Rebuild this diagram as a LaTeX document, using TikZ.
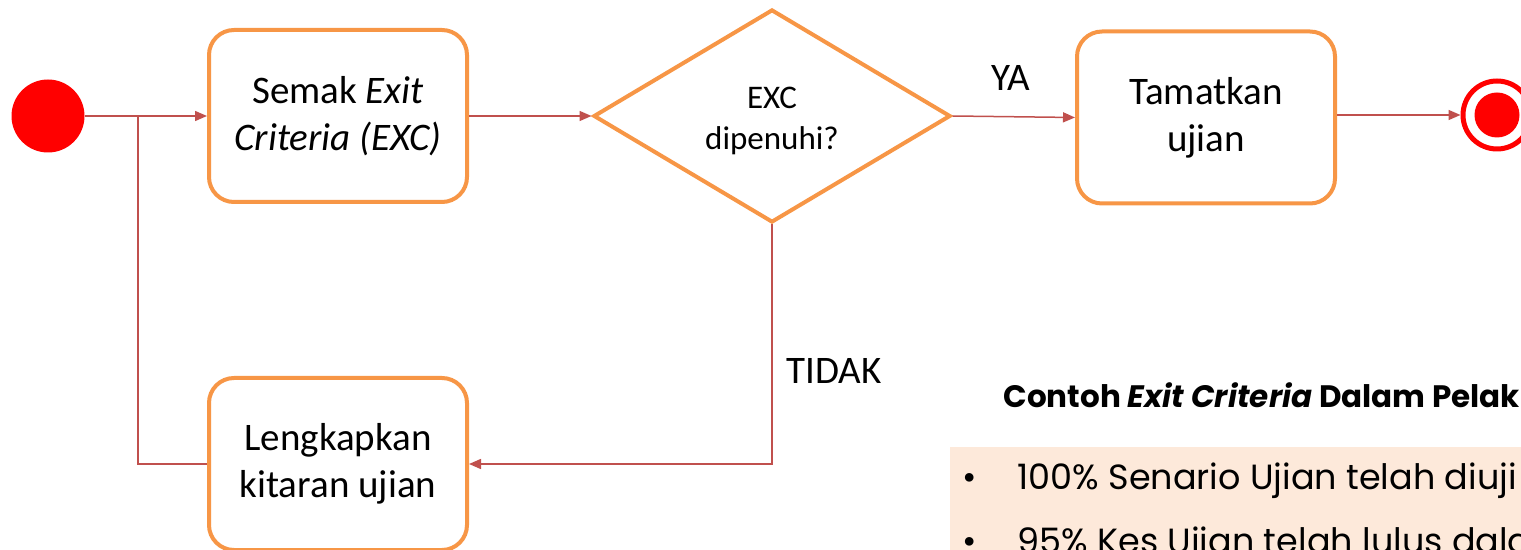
\documentclass[tikz,border=0pt]{standalone}
\usepackage{fontspec}
\setmainfont{Carlito}
\newfontfamily\cgfont{Poppins}
\usetikzlibrary{shapes.geometric,arrows.meta}
\definecolor{boxorange}{HTML}{F79646}
\definecolor{linered}{HTML}{C0504D}
\definecolor{peach}{HTML}{FDE9DA}
\definecolor{pure}{HTML}{FF0000}
\tikzset{
  proc/.style={draw=boxorange, line width=2pt, rounded corners=12.5pt, fill=white,
    minimum width=129pt, minimum height=86pt, align=center,
    font=\fontsize{19.5}{23.5}\selectfont},
  decis/.style={draw=boxorange, line width=2pt, diamond, aspect=1.67, inner sep=0pt,
    minimum width=357pt*0.5, minimum height=213pt*0.5},
  dectext/.style={align=center, inner sep=0pt, font=\fontsize{16.5}{20.5}\selectfont},
  flow/.style={draw=linered, line width=0.75pt, -{Triangle[length=6pt,width=5pt]}},
  plainflow/.style={draw=linered, line width=0.75pt},
  lbl/.style={font=\fontsize{19.5}{23.5}\selectfont, inner sep=0pt},
  bul/.style={font=\cgfont\fontsize{17.5}{22}\selectfont, inner sep=0pt},
}
\begin{document}
\begin{tikzpicture}[x=0.5pt,y=-0.5pt]
\useasboundingbox (0,0) rectangle (1521,550);
\clip (0,0) rectangle (1521,550);
% bottom-right panel
\fill[peach] (950,447) rectangle (1521,550);
\node[anchor=base west, inner sep=0pt, font=\cgfont\bfseries\fontsize{15.5}{18}\selectfont] (title) at (1003,408) {Contoh \textit{Exit Criteria} Dalam Pelaksanaan Ujian};
\node[bul, anchor=base] (b1) at (970,490) {•};
\node[bul, anchor=base west] (t1) at (1017,490) {100\% Senario Ujian telah diuji};
\node[bul, anchor=base] (b2) at (970,553) {•};
\node[bul, anchor=base west] (t2) at (1017,553) {95\% Kes Ujian telah lulus dalam ujian};
% nodes
\node[circle, fill=pure, minimum size=36.5pt, inner sep=0pt] (start) at (48,116) {};
\node[proc] (semak) at (338,116) {Semak \textit{Exit}\\\textit{Criteria (EXC)}};
\node[decis] (dec) at (772,116) {};
\node[dectext] (dectxt) at (772,121) {EXC\\dipenuhi?};
\node[proc] (tamat) at (1206,117.5) {Tamatkan\\ujian};
\node[proc] (lengkap) at (338,464) {Lengkapkan\\kitaran ujian};
\node[circle, draw=pure, line width=2.5pt, minimum size=34pt, inner sep=0pt] (endc) at (1497,115) {};
\node[circle, fill=pure, minimum size=22.5pt, inner sep=0pt] (endin) at (endc.center) {};
\coordinate (junc) at (138,116);
% connectors
\draw[flow] (start.east) -- (semak.west);
\draw[plainflow] (junc) |- (lengkap.west);
\draw[flow] (semak.east) -- (dec.west);
\draw[flow] (dec.east) -- (tamat.west);
\draw[flow] (tamat.east |- endc.west) -- (endc.west);
\draw[flow] (dec.south) |- (lengkap.east);
% labels
\node[lbl] (ya) at (1011,78) {YA};
\node[lbl] (tidak) at (834,371) {TIDAK};
\end{tikzpicture}
\end{document}
